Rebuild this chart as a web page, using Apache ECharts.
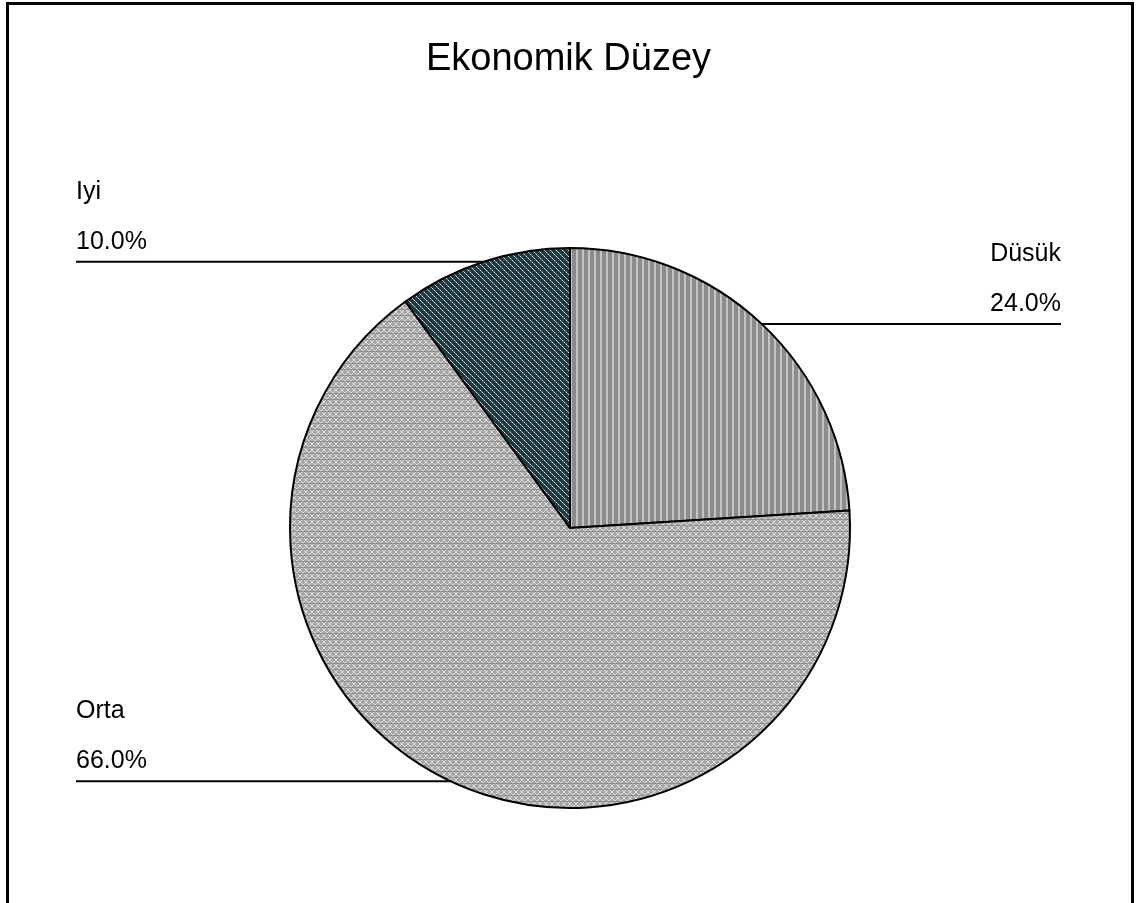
<!DOCTYPE html>
<html>
<head>
<meta charset="utf-8">
<script src="https://cdn.jsdelivr.net/npm/echarts@6/dist/echarts.min.js"></script>
<style>
html,body{margin:0;padding:0;background:#fff;overflow:hidden;}
#chart{position:absolute;left:0;top:0;width:1137px;height:903px;}
#frame{position:absolute;left:6px;top:2px;width:1128px;height:1000px;border:3px solid #000;box-sizing:border-box;pointer-events:none;}
</style>
</head>
<body>
<div id="chart"></div>
<div id="frame"></div>
<script>
const titleText = 'Ekonomik Düzey';
const categories = ['Düsük', 'Orta', 'Iyi'];
const values = [24.0, 66.0, 10.0];

function makePattern(w, h, draw) {
  const c = document.createElement('canvas');
  c.width = w; c.height = h;
  const ctx = c.getContext('2d');
  draw(ctx, w, h);
  return { image: c, repeat: 'repeat' };
}
const patDusuk = makePattern(6, 6, (ctx, w, h) => {
  ctx.fillStyle = '#8c8c8c'; ctx.fillRect(0, 0, w, h);
  ctx.fillStyle = '#c4c4c4'; ctx.fillRect(0, 0, 2, h);
});
const patOrta = makePattern(6, 6, (ctx, w, h) => {
  ctx.fillStyle = '#a6a6a6'; ctx.fillRect(0, 0, w, h);
  ctx.fillStyle = '#dcdcdc';
  for (let i = 0; i < 6; i++) { ctx.fillRect(i, i, 1, 1); ctx.fillRect(5 - i, i, 1, 1); }
  ctx.fillStyle = '#919191'; ctx.fillRect(0, 3, 6, 1);
});
const patIyi = makePattern(6, 6, (ctx, w, h) => {
  ctx.fillStyle = '#1b3b45'; ctx.fillRect(0, 0, w, h);
  for (let i = 0; i < 6; i++) {
    ctx.fillStyle = (i % 2 === 0) ? '#e8f0f0' : '#8aa4a8';
    ctx.fillRect(i, i, 1, 1);
  }
});
const fills = [patDusuk, patOrta, patIyi];

const chart = echarts.init(document.getElementById('chart'), null, { renderer: 'canvas' });
const fontFamily = "'Liberation Sans', Arial, sans-serif";
chart.setOption({
  animation: false,
  backgroundColor: 'transparent',
  title: {
    text: titleText,
    left: 'center',
    top: 36,
    textStyle: { fontFamily, fontSize: 38, fontWeight: 'normal', color: '#000' }
  },
  series: [{
    type: 'pie',
    center: [570, 528],
    radius: 280,
    startAngle: 90,
    clockwise: true,
    avoidLabelOverlap: false,
    data: categories.map((n, i) => ({ name: n, value: values[i], itemStyle: { color: fills[i] } })),
    itemStyle: { borderColor: '#000', borderWidth: 2 },
    emphasis: { disabled: true },
    label: {
      show: true,
      position: 'outer',
      alignTo: 'edge',
      edgeDistance: 76,
      formatter: p => '{a|' + p.name + '}\n{a|' + p.value.toFixed(1) + '%}\n{b| }',
      color: '#000',
      rich: {
        a: { fontFamily, fontSize: 25, lineHeight: 50, color: '#000' },
        b: { fontFamily, fontSize: 10, lineHeight: 90 }
      }
    },
    labelLine: {
      show: true,
      length: 0,
      length2: 10,
      smooth: false,
      lineStyle: { color: '#000', width: 2 }
    },
    labelLayout: function (params) {
      const pts = params.labelLinePoints;
      if (!pts || !params.labelRect) return {};
      const r = params.labelRect;
      const first = pts[0];
      const last = pts[pts.length - 1];
      const isRight = last[0] > first[0];
      const endX = isRight ? r.x + r.width : r.x;
      const newPts = pts.map(p => [p[0], p[1]]);
      newPts[newPts.length - 1] = [endX, last[1]];
      return { labelLinePoints: newPts };
    }
  }]
});
</script>
</body>
</html>
